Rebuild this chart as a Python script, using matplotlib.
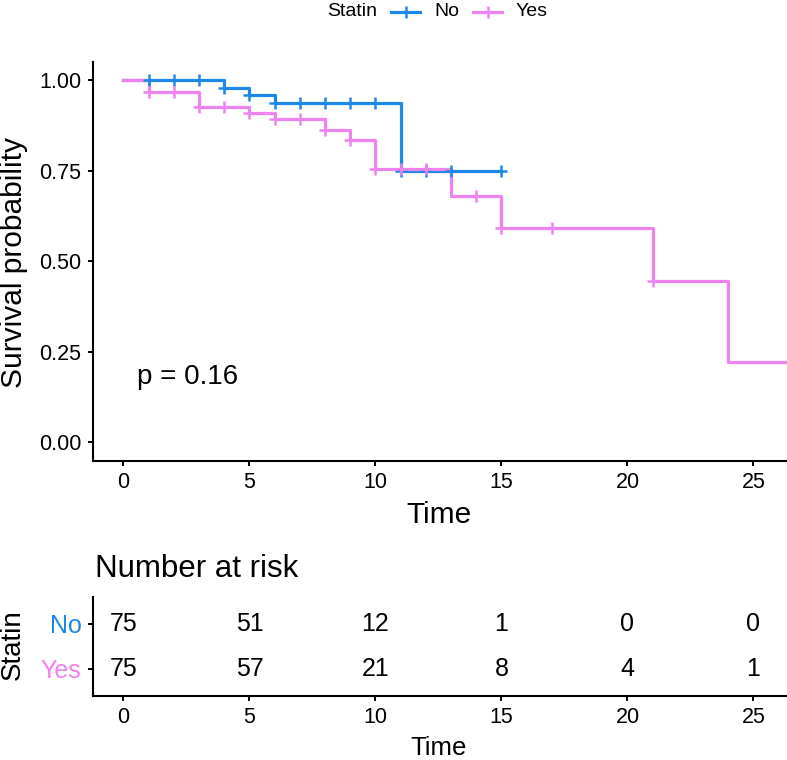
import numpy as np
import matplotlib
matplotlib.use("Agg")
import matplotlib.pyplot as plt
from matplotlib.lines import Line2D

plt.rcParams['font.family'] = ['Liberation Sans', 'DejaVu Sans']

# ---------------- data ----------------
groups = ["No", "Yes"]
colors = {"No": "#1E88E8", "Yes": "#EE82EE"}

# Kaplan-Meier step functions (time of step, survival after step)
no_times = [0, 4, 5, 6, 11, 15]
no_surv = [1.0, 0.978, 0.958, 0.936, 0.75, 0.75]
no_censor = [1, 2, 3, 4, 5, 6, 7, 8, 9, 10, 11, 12, 13, 15]

yes_times = [0, 1, 3, 5, 6, 8, 9, 10, 13, 15, 21, 24, 26.35]
yes_surv = [1.0, 0.968, 0.926, 0.910, 0.892, 0.862, 0.834, 0.755, 0.680, 0.591, 0.445, 0.222, 0.222]
yes_censor = [1, 2, 3, 4, 5, 6, 7, 8, 9, 10, 11, 12, 14, 15, 17, 21]

risk_times = [0, 5, 10, 15, 20, 25]
risk_no = [75, 51, 12, 1, 0, 0]
risk_yes = [75, 57, 21, 8, 4, 1]

p_text = "p = 0.16"
x_ticks = [0, 5, 10, 15, 20, 25]
y_ticks = [0.0, 0.25, 0.50, 0.75, 1.00]
y_ticklabels = ["0.00", "0.25", "0.50", "0.75", "1.00"]

# ---------------- figure ----------------
W, H = 787, 760
fig = plt.figure(figsize=(W / 100, H / 100), dpi=100)


def fx(px):
    return px / W


def fy(py):
    return 1 - py / H


XLIM = (-1.22, 26.33)
SPINE_W = 1.5

# ---- survival axes ----
ax = fig.add_axes([fx(92.7), fy(461), (W - 92.7) / W, (461 - 62) / H])
ax.set_xlim(*XLIM)
ax.set_ylim(-0.052, 1.05)


def step_value(times, surv, t):
    i = np.searchsorted(times, t, side='right') - 1
    return surv[i]


curves = [
    ("No", no_times, no_surv, no_censor),
    ("Yes", yes_times, yes_surv, yes_censor),
]
for name, t, s, cen in curves:
    t = np.asarray(t, float)
    s = np.asarray(s, float)
    ax.step(t, s, where='post', color=colors[name], lw=2.3, zorder=3)
    cy = [step_value(t, s, c) for c in cen]
    ax.plot(cen, cy, ls='none', marker='+', ms=9, mew=1.8,
            color=colors[name], zorder=4)

ax.text(0.55, 0.18, p_text, fontsize=20, ha='left', va='center')

ax.set_xticks(x_ticks)
ax.set_xticklabels([str(v) for v in x_ticks])
ax.set_yticks(y_ticks)
ax.set_yticklabels(y_ticklabels)
for sp in ['top', 'right']:
    ax.spines[sp].set_visible(False)
for sp in ['left', 'bottom']:
    ax.spines[sp].set_linewidth(SPINE_W)
    ax.spines[sp].set_color('black')
ax.tick_params(axis='both', direction='out', length=3.5, width=1.4,
               labelsize=15.5, colors='black', pad=4.5)

fig.text(fx(439), fy(523), "Time", fontsize=21.5, ha='center', va='baseline')
fig.text(fx(14), fy(262), "Survival probability", fontsize=21.5,
         ha='center', va='center', rotation=90)

# ---- legend (top) ----
leg_y = fy(12)
fig.text(fx(327), leg_y, "Statin", fontsize=14, ha='left', va='center')
for name, x0, x1, xt in [("No", 391, 420, 434), ("Yes", 473, 502, 516)]:
    fig.add_artist(Line2D([fx(x0), fx(x1)], [leg_y, leg_y],
                          transform=fig.transFigure, color=colors[name], lw=2.3))
    fig.add_artist(Line2D([fx((x0 + x1) / 2)], [leg_y], transform=fig.transFigure,
                          color=colors[name], marker='+', ms=9, mew=1.8))
    fig.text(fx(xt), leg_y, name, fontsize=14, ha='left', va='center')

# ---- risk table ----
rax = fig.add_axes([fx(92.7), fy(695.7), (W - 92.7) / W, (695.7 - 596.7) / H])
rax.set_xlim(*XLIM)
rax.set_ylim(0.4, 2.6)
row_pos = {"No": 2, "Yes": 1}
for name, vals in [("No", risk_no), ("Yes", risk_yes)]:
    for t, v in zip(risk_times, vals):
        rax.text(t, row_pos[name], str(v), fontsize=18, ha='center', va='center')
rax.set_xticks(x_ticks)
rax.set_xticklabels([str(v) for v in x_ticks])
rax.set_yticks([row_pos[g] for g in groups])
rax.set_yticklabels(groups)
for sp in ['top', 'right']:
    rax.spines[sp].set_visible(False)
for sp in ['left', 'bottom']:
    rax.spines[sp].set_linewidth(SPINE_W)
    rax.spines[sp].set_color('black')
rax.tick_params(axis='both', direction='out', length=3.5, width=1.4,
                labelsize=15.5, pad=4.5)
for lab, g in zip(rax.get_yticklabels(), groups):
    lab.set_color(colors[g])
    lab.set_fontsize(18)

fig.text(fx(95), fy(577), "Number at risk", fontsize=22.5, ha='left', va='baseline')
fig.text(fx(439), fy(755), "Time", fontsize=18.5, ha='center', va='baseline')
fig.text(fx(13), fy(645), "Statin", fontsize=20, ha='center', va='center', rotation=90)

fig.savefig("out.png", dpi=100)
